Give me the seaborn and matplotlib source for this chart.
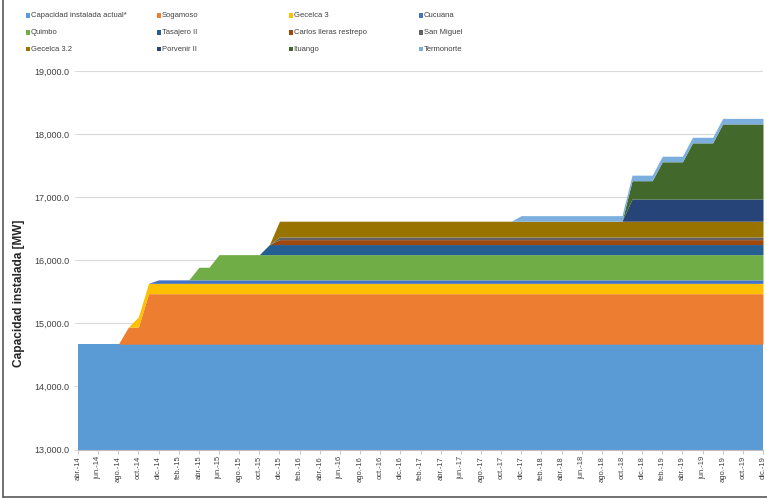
import numpy as np
import matplotlib.pyplot as plt
import seaborn as sns
from matplotlib.patches import Rectangle
from matplotlib.lines import Line2D
from matplotlib.ticker import FuncFormatter

# --- datos (MW), mensual abr-14 .. dic-19 ---
meses = ["ene", "feb", "mar", "abr", "may", "jun", "jul", "ago", "sep", "oct", "nov", "dic"]
periodos = [f"{meses[m % 12]}.-{14 + m // 12}" for m in range(3, 72)]

capacidad_actual = [14670] * 69
sogamoso = [0] * 5 + [270] * 2 + [800] * 62
gecelca_3 = [0] * 6 + [164] * 63
cucuana = [0] * 8 + [55] * 61
quimbo = [0] * 12 + [200] * 2 + [400] * 55
tasajero_2 = [0] * 19 + [160] * 50
carlos_lleras = [0] * 20 + [78] * 49
san_miguel = [0] * 20 + [42] * 49
gecelca_32 = [0] * 20 + [250] * 49
porvenir_2 = [0] * 55 + [352] * 14
ituango = [0] * 55 + [290] * 3 + [590] * 3 + [890] * 3 + [1190] * 5
termonorte = [0] * 44 + [88] * 25

nombres = ["Capacidad instalada actual*", "Sogamoso", "Gecelca 3", "Cucuana",
           "Quimbo", "Tasajero II", "Carlos lleras restrepo", "San Miguel",
           "Gecelca 3.2", "Porvenir II", "Ituango", "Termonorte"]
series = [capacidad_actual, sogamoso, gecelca_3, cucuana, quimbo, tasajero_2,
          carlos_lleras, san_miguel, gecelca_32, porvenir_2, ituango, termonorte]
colores = ["#5B9BD5", "#ED7D31", "#FFC000", "#4472C4", "#70AD47", "#255E91",
           "#9E480E", "#636363", "#997300", "#264478", "#43682B", "#7CAFDD"]

sns.set_style("white")
plt.rcParams["font.family"] = ["Liberation Sans", "DejaVu Sans"]

W, H = 767, 498
fig = plt.figure(figsize=(W / 100, H / 100), dpi=100)
ax = fig.add_axes([78 / W, 1 - 449.5 / H, 685 / W, 378.5 / H])

x = np.arange(len(periodos))
ax.stackplot(x, *series, colors=colores, linewidth=0)

ax.set_xlim(0, len(periodos) - 1)
ax.set_ylim(13000, 19000)
ax.set_yticks(np.arange(13000, 19001, 1000))
ax.yaxis.set_major_formatter(FuncFormatter(lambda v, p: f"{v:,.1f}"))
ax.yaxis.grid(True, color="#D9D9D9", linewidth=0.8)
ax.set_axisbelow(True)

ax.set_xticks(x[::2])
ax.set_xticklabels(periodos[::2], rotation=90, fontsize=5.4, color="#404040")
ax.tick_params(axis="x", length=3, width=0.6, color="#BFBFBF", pad=1.5, bottom=True)
ax.tick_params(axis="y", length=3, width=0.6, color="#D9D9D9", pad=3.5,
               labelsize=6.5, labelcolor="#404040", left=True)

for s in ["top", "right", "left"]:
    ax.spines[s].set_visible(False)
ax.spines["bottom"].set_color("#BFBFBF")
ax.spines["bottom"].set_linewidth(0.8)

fig.text(19 / W, 1 - 293 / H, "Capacidad instalada [MW]", rotation=90,
         ha="center", va="center", fontsize=8.6, fontweight="bold", color="#262626")

# leyenda en 4 columnas x 3 filas
col_x = [26, 157, 289, 419]
row_y = [15.5, 32.5, 49.2]
for i, (nombre, c) in enumerate(zip(nombres, colores)):
    px = col_x[i % 4]
    py = row_y[i // 4]
    fig.add_artist(Rectangle((px / W, 1 - (py + 2.2) / H), 4.2 / W, 4.4 / H,
                             transform=fig.transFigure, facecolor=c, edgecolor="none"))
    fig.text((px + 4.6) / W, 1 - py / H, nombre, ha="left", va="center",
             fontsize=5.5, color="#404040")

# marco del grafico
fig.add_artist(Line2D([3 / W, 3 / W], [1 - 496.5 / H, 1], transform=fig.transFigure,
                      color="#595959", linewidth=1.2))
fig.add_artist(Line2D([3 / W, 1], [1 - 496.5 / H, 1 - 496.5 / H], transform=fig.transFigure,
                      color="#595959", linewidth=1.2))

fig.savefig("out.png", dpi=100)
